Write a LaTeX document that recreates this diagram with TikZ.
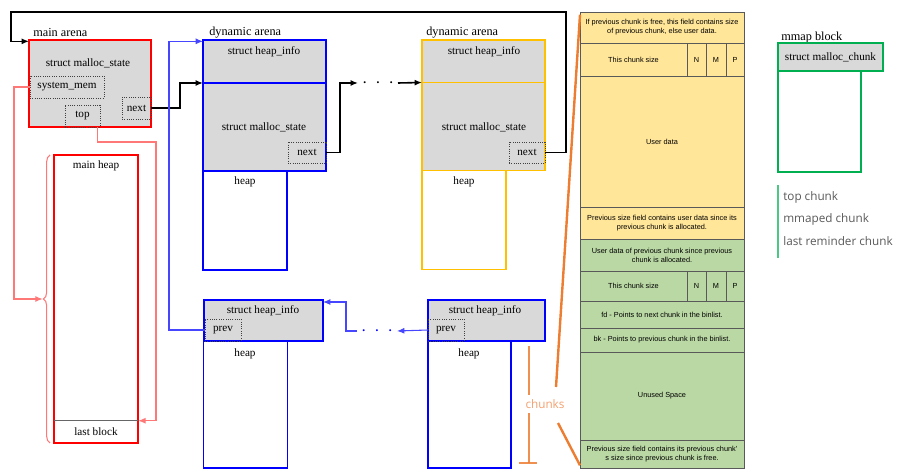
\documentclass[tikz,border=0pt]{standalone}
\usepackage{fontspec}
\setmainfont{Liberation Serif}
\newfontfamily\tblfont{Liberation Sans}
\newfontfamily\uifont{Open Sans}
\usetikzlibrary{arrows.meta,decorations.pathreplacing}

\definecolor{boxgray}{RGB}{217,217,217}
\definecolor{arenared}{RGB}{255,0,0}
\definecolor{linkred}{RGB}{255,120,120}
\definecolor{heapblue}{RGB}{0,0,255}
\definecolor{linkblue}{RGB}{70,70,255}
\definecolor{arenayellow}{RGB}{255,192,0}
\definecolor{mmapgreen}{RGB}{0,176,80}
\definecolor{chunkyellow}{RGB}{255,230,153}
\definecolor{chunkgreen}{RGB}{186,216,164}
\definecolor{chunkorange}{RGB}{237,125,49}
\definecolor{chunktext}{RGB}{242,160,110}
\definecolor{legendgray}{RGB}{89,89,89}

\tikzset{
  >={Latex[length=5.5pt,width=4.5pt]},
  lbl/.style={inner sep=0pt, font=\fontsize{8.4}{10}\selectfont},
  title/.style={anchor=west, inner sep=0pt, font=\fontsize{9.2}{10}\selectfont},
  box/.style={draw, line width=1.4pt, inner sep=0pt, outer sep=0pt},
  field/.style={draw=black!75, densely dotted, line width=0.7pt, inner sep=0pt, outer sep=0pt, font=\fontsize{8.4}{10}\selectfont},
  dotsnode/.style={inner sep=0pt, outer sep=0pt, minimum width=30pt, minimum height=8pt, font=\Large},
  blk/.style={black, line width=1.2pt},
  redln/.style={linkred, line width=0.8pt},
  blueln/.style={linkblue, line width=0.8pt},
  orln/.style={chunkorange, line width=1.8pt},
  row/.style={draw=black!65, line width=0.5pt, inner sep=0pt, outer sep=0pt, minimum width=123pt, align=center, font=\tblfont\fontsize{5.5}{6.6}\selectfont},
  cell/.style={row, minimum width=#1},
  legend/.style={anchor=west, inner sep=0pt, text=legendgray, font=\uifont\fontsize{8.8}{10}\selectfont}
}

\begin{document}
\begin{tikzpicture}[x=0.75pt,y=-0.75pt]
        \useasboundingbox (0,0) rectangle (905,473);

        % main arena
        \node[box, draw=arenared, fill=boxgray, minimum width=91.5pt, minimum height=65.25pt] (marena) at (90,83.5) {};
        \node[title] (marenat) at (33,33) {main arena};
        \node[lbl] (mstate) at (88,63) {struct malloc\_state};
        \node[field, minimum width=55.5pt, minimum height=16.5pt] (sysmem) at (67,87) {system\_mem};
        \node[field, minimum width=26.25pt, minimum height=16.5pt] (mtop) at (82.5,116) {top};
        \node[field, minimum width=21.75pt, minimum height=16.5pt] (mnext) at (136.5,108) {next};

        % main heap
        \node[box, draw=arenared, minimum width=63pt, minimum height=216pt] (mheap) at (96,299) {};
        \node[lbl] (mheapt) at (96,166) {main heap};
        \node[lbl, minimum width=63pt, minimum height=16.5pt] (lastblk) at (96,432) {last block};
        \draw[black!60, line width=0.8pt] (lastblk.north west) -- (lastblk.north east);
        \coordinate (btip) at ([xshift=-8.5pt]mheap.west);
        \draw[redln, decorate, decoration={brace, amplitude=5pt}]
            ([xshift=-3pt]mheap.south west) -- ([xshift=-3pt]mheap.north west);

        % dynamic arenas
        \node[title] (d1t) at (209,33) {dynamic arena};
        \node[box, draw=heapblue, fill=boxgray, minimum width=92.25pt, minimum height=32.25pt] (d1info) at (264.5,61.5) {};
        \node[box, draw=heapblue, fill=boxgray, minimum width=92.25pt, minimum height=66pt] (d1state) at (264.5,127) {};
        \node[box, draw=heapblue, minimum width=63pt, minimum height=74.25pt] (d1heap) at (245,220.5) {};
        \node[field, minimum width=28.5pt, minimum height=15.75pt] (d1next) at (307,152.5) {next};
        \node[lbl] at (264,52) {struct heap\_info};
        \node[lbl] at (264,127) {struct malloc\_state};
        \node[lbl] at (245,182) {heap};

        \node[title] (d2t) at (426,33) {dynamic arena};
        \node[box, draw=arenayellow, fill=boxgray, minimum width=92.25pt, minimum height=32.25pt] (d2info) at (483.5,61.5) {};
        \node[box, draw=arenayellow, fill=boxgray, minimum width=92.25pt, minimum height=66pt] (d2state) at (483.5,126.5) {};
        \node[box, draw=arenayellow, minimum width=63pt, minimum height=74.25pt] (d2heap) at (464,220) {};
        \node[field, minimum width=27pt, minimum height=15.75pt] (d2next) at (527,152.5) {next};
        \node[lbl] at (484,52) {struct heap\_info};
        \node[lbl] at (484,127) {struct malloc\_state};
        \node[lbl] at (464,182) {heap};

        \node[dotsnode] (dots1) at (378,83) {$\cdot$\hspace{6pt}$\cdot$\hspace{6pt}$\cdot$};

        % heaps of the dynamic arena
        \node[box, draw=heapblue, minimum width=63pt, minimum height=95.25pt] (aheap) at (245.5,404.5) {};
        \node[box, draw=heapblue, fill=boxgray, minimum width=89.25pt, minimum height=30.75pt] (ainfo) at (263.5,320.5) {};
        \node[field, minimum width=27pt, minimum height=16.5pt] (aprev) at (223,330) {prev};
        \node[lbl] at (263,311) {struct heap\_info};
        \node[lbl] at (245,354) {heap};

        \node[box, draw=heapblue, minimum width=62.25pt, minimum height=95.25pt] (bheap) at (469.5,404.5) {};
        \node[box, draw=heapblue, fill=boxgray, minimum width=87.75pt, minimum height=30.75pt] (binfo) at (486.5,320.5) {};
        \node[field, minimum width=27pt, minimum height=16.5pt] (bprev) at (446,330) {prev};
        \node[lbl] at (485,311) {struct heap\_info};
        \node[lbl] at (469,354) {heap};

        \node[dotsnode, text=heapblue] (dots2) at (377,331) {$\cdot$\hspace{6pt}$\cdot$\hspace{6pt}$\cdot$};

        % links
        \coordinate (loopcorner) at (11,12);
        \coordinate (topcorner) at (156,142);
        \draw[blk, ->] (d2next.east) -- ++(21,0) |- (loopcorner) |- ([yshift=-1pt]marena.north west);
        \draw[blk, ->] (mnext.east) -- ++(29,0) |- (d1state.north west);
        \draw[blk, ->] (d1next.east) -- ++(14,0) |- (dots1.west);
        \draw[blk, ->] (dots1.east) -- (d2state.north west);
        \draw[redln, ->] (sysmem.west) -- ++(-16,0) |- (btip);
        \draw[redln, ->] ([xshift=-2pt]mtop.south east) |- (topcorner) |- (lastblk.north east);
        \draw[blueln, ->] (aprev.west) -- ++(-36,0) |- ([yshift=-1pt]d1info.north west);
        \draw[blueln, ->] (bprev.west) -- (dots2.east);
        \draw[blueln, ->] (dots2.west) -- ++(-11,0) |- ([yshift=-1.5pt]ainfo.north east);

        % chunk layout
        \node[row, fill=chunkyellow, minimum height=23.25pt] (yprev) at (662,27.5)
            {If previous chunk is free, this field contains size\\of previous chunk, else user data.};
        \node[cell=80.25pt, fill=chunkyellow, minimum height=24.75pt] (ysz) at (633.5,59.5) {This chunk size};
        \node[cell=14.25pt, fill=chunkyellow, minimum height=24.75pt] (yn) at (696.5,59.5) {N};
        \node[cell=15pt, fill=chunkyellow, minimum height=24.75pt] (ym) at (716,59.5) {M};
        \node[cell=13.5pt, fill=chunkyellow, minimum height=24.75pt] (yp) at (735,59.5) {P};
        \node[row, fill=chunkyellow, minimum height=98.25pt] (ydata) at (662,141.5) {User data};
        \node[row, fill=chunkyellow, minimum height=24pt] (yfoot) at (662,223)
            {Previous size field contains user data since its\\previous chunk is allocated.};

        \node[row, fill=chunkgreen, minimum height=24pt] (gprev) at (662,255)
            {User data of previous chunk since previous\\chunk is allocated.};
        \node[cell=80.25pt, fill=chunkgreen, minimum height=22.5pt] (gsz) at (633.5,286) {This chunk size};
        \node[cell=14.25pt, fill=chunkgreen, minimum height=22.5pt] (gn) at (696.5,286) {N};
        \node[cell=15pt, fill=chunkgreen, minimum height=22.5pt] (gm) at (716,286) {M};
        \node[cell=13.5pt, fill=chunkgreen, minimum height=22.5pt] (gp) at (735,286) {P};
        \node[row, fill=chunkgreen, minimum height=20.25pt] (gfd) at (662,314.5) {fd - Points to next chunk in the binlist.};
        \node[row, fill=chunkgreen, minimum height=18pt] (gbk) at (662,340) {bk - Points to previous chunk in the binlist.};
        \node[row, fill=chunkgreen, minimum height=66pt] (gunused) at (662,396) {Unused Space};
        \node[row, fill=chunkgreen, minimum height=21pt] (gfoot) at (662,454)
            {Previous size field contains its previous chunk'\\s size since previous chunk is free.};

        % chunks marker
        \node[inner sep=3pt, text=chunktext, font=\uifont\fontsize{8.8}{10}\selectfont] (chunks) at (545,404) {chunks};
        \coordinate (ctop) at (529,346);
        \coordinate (cbot) at (529,463);
        \coordinate (dtop) at (556,387);
        \coordinate (dbot) at (558,423);
        \draw[orln, opacity=0.85] (ctop) -- (ctop |- chunks.north);
        \draw[orln, opacity=0.85] (cbot) -- (cbot |- chunks.south);
        \draw[orln, opacity=0.85] ([xshift=-7.5pt]cbot) -- ([xshift=6pt]cbot);
        \draw[orln] (dtop) -- ([yshift=-2pt]yprev.north west);
        \draw[orln] (dbot) -- ([yshift=2pt]gfoot.south west);

        % mmap block
        \node[title] (mmapt) at (781,38) {mmap block};
        \node[box, draw=mmapgreen, minimum width=62.25pt, minimum height=75.75pt] (mmbody) at (819.5,121.5) {};
        \node[box, draw=mmapgreen, fill=boxgray, minimum width=78.75pt, minimum height=21pt, font=\fontsize{8.4}{10}\selectfont] (mminfo) at (830.5,57) {struct malloc\_chunk};

        % legend
        \draw[mmapgreen!70, line width=0.8pt] (778,185) -- (778,258);
        \node[legend] (lgtop) at (783,197) {top chunk};
        \node[legend] (lgmmap) at (783,219) {mmaped chunk};
        \node[legend] (lglast) at (783,241) {last reminder chunk};
    \end{tikzpicture}
\end{document}
